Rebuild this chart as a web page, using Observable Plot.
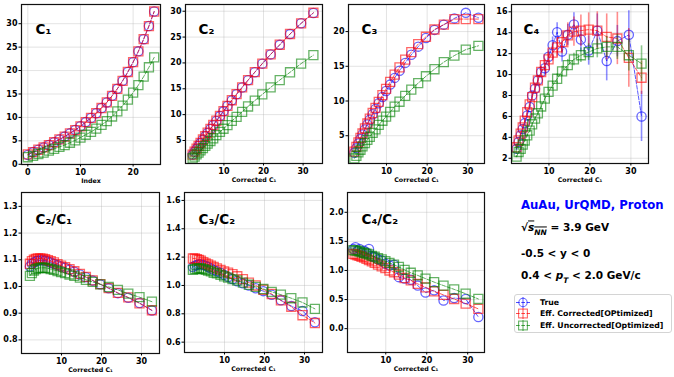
<!DOCTYPE html>
<html><head><meta charset="utf-8">
<script src="https://cdn.jsdelivr.net/npm/d3@7"></script>
<script src="https://cdn.jsdelivr.net/npm/@observablehq/plot@0.6"></script>
<style>
body{margin:0;background:#fff;}
#fig{position:relative;width:674px;height:377px;font-family:"DejaVu Sans",sans-serif;overflow:hidden;background:#fff;}
.panel{position:absolute;}
.note{position:absolute;left:521px;font-weight:bold;font-size:10.5px;color:#000;white-space:nowrap;transform:translateY(-50%);line-height:1.2;}
#legend{position:absolute;left:514px;top:294px;width:156px;height:37px;border:1px solid #d4d4d4;border-radius:3px;background:#fff;}
.lrow{position:absolute;left:0;height:11px;font-weight:bold;font-size:7.8px;white-space:nowrap;}
.lrow svg{position:absolute;left:0;top:0;}
.lrow span{position:absolute;left:25px;top:0;line-height:11px;}
</style></head><body><div id="fig"></div>
<script>
// ---------------- data ----------------
const index = [0,1,2,3,4,5,6,7,8,9,10,11,12,13,14,15,16,17,18,19,20,21,22,23,24];
// Corrected C1 (x axis of all other panels)
const c1Corrected   = [2.1,2.6,3.1,3.6,4.1,4.7,5.3,5.9,6.6,7.3,8.1,9.0,9.9,10.9,12.0,13.2,14.6,16.1,17.8,19.7,21.8,24.1,26.7,29.5,32.6];
const c1True        = [2.0,2.6,3.1,3.6,4.1,4.7,5.3,5.9,6.6,7.3,8.1,9.0,9.9,10.9,12.0,13.2,14.6,16.1,17.8,19.7,21.8,24.1,26.7,29.5,32.6];
const c1Uncorrected = [1.5,1.8,2.2,2.5,2.9,3.3,3.7,4.1,4.6,5.1,5.7,6.3,6.9,7.6,8.4,9.2,10.2,11.3,12.5,13.8,15.3,16.9,18.7,20.7,22.8];

const c2True        = [2.26,2.82,3.38,3.94,4.50,5.16,5.82,6.47,7.22,7.96,8.79,9.72,10.64,11.66,12.76,13.93,15.26,16.66,18.19,19.86,21.65,23.50,25.58,27.67,29.67];
const c2Corrected   = [2.28,2.85,3.41,3.97,4.53,5.19,5.85,6.50,7.25,7.99,8.82,9.75,10.67,11.69,12.79,13.96,15.28,16.68,18.21,19.88,21.66,23.52,25.60,27.64,29.70];
const c2Uncorrected = [1.56,1.89,2.33,2.66,3.10,3.53,3.96,4.39,4.91,5.43,6.05,6.66,7.27,7.98,8.78,9.57,10.54,11.58,12.71,13.91,15.27,16.68,18.19,19.87,21.50];

const c3True        = [2.55,3.21,3.87,4.53,5.18,5.91,6.63,7.31,8.09,8.84,9.67,10.59,11.44,12.36,13.33,14.35,15.49,16.66,17.83,19.07,20.24,21.0,21.9,22.7,22.0];
const c3Corrected   = [2.71,3.39,4.04,4.68,5.32,6.05,6.76,7.46,8.27,9.02,9.88,10.85,11.75,12.75,13.80,14.85,15.95,17.05,18.2,19.25,20.3,21.0,21.8,21.8,21.8];
const c3Uncorrected = [1.73,2.11,2.61,2.98,3.47,3.94,4.40,4.85,5.40,5.92,6.56,7.16,7.74,8.42,9.18,9.90,10.75,11.64,12.58,13.56,14.58,15.60,16.55,17.40,17.95];

const c4True        = [2.9,3.55,4.2,4.8,5.35,6.1,6.9,8.0,8.65,9.45,10.25,10.6,11.7,12.8,14.05,12.2,13.8,14.8,13.35,12.3,14.2,11.3,13.2,13.8,6.0];
const c4Corrected   = [3.05,3.7,4.35,4.95,5.6,6.4,7.15,7.85,8.75,9.45,10.25,10.9,11.45,12.1,12.6,13.1,13.75,14.1,14.2,14.3,14.2,13.6,13.45,11.6,9.7];
const c4Uncorrected = [2.15,2.6,2.9,3.3,3.7,4.2,4.65,5.25,5.8,6.3,6.95,7.7,8.35,8.95,9.6,10.3,10.9,11.45,11.85,12.15,12.5,12.65,12.65,11.85,11.05];
const c4TrueErr        = [0.15,0.15,0.2,0.2,0.25,0.3,0.3,0.35,0.4,0.45,0.5,0.6,0.7,0.8,0.9,1.0,1.0,1.1,1.2,1.4,1.6,1.9,1.5,2.3,2.4];
const c4CorrectedErr   = [0.15,0.15,0.2,0.2,0.25,0.3,0.3,0.35,0.4,0.45,0.5,0.6,0.7,0.8,0.9,1.1,1.2,1.4,1.5,1.6,1.8,2.2,2.5,2.8,1.6];
const c4UncorrectedErr = [0.1,0.1,0.1,0.15,0.15,0.15,0.2,0.2,0.2,0.25,0.3,0.3,0.35,0.4,0.45,0.5,0.55,0.6,0.7,0.8,0.9,1.0,1.2,1.5,1.7];

const r21True        = [1.075,1.085,1.09,1.095,1.097,1.098,1.098,1.097,1.094,1.09,1.085,1.08,1.075,1.07,1.063,1.055,1.045,1.035,1.022,1.008,0.993,0.975,0.958,0.938,0.91];
const r21Corrected   = [1.085,1.095,1.1,1.103,1.105,1.105,1.104,1.102,1.099,1.095,1.09,1.084,1.078,1.072,1.065,1.057,1.047,1.036,1.023,1.009,0.994,0.976,0.959,0.937,0.911];
const r21Uncorrected = [1.04,1.05,1.06,1.065,1.068,1.07,1.07,1.07,1.068,1.065,1.062,1.058,1.054,1.05,1.045,1.04,1.033,1.025,1.017,1.008,0.998,0.987,0.973,0.96,0.943];

const r32True        = [1.13,1.14,1.145,1.15,1.15,1.145,1.14,1.13,1.12,1.11,1.10,1.09,1.075,1.06,1.045,1.03,1.015,1.0,0.98,0.96,0.935,0.895,0.855,0.82,0.74];
const r32Corrected   = [1.19,1.19,1.185,1.18,1.175,1.165,1.155,1.148,1.14,1.13,1.12,1.11,1.10,1.09,1.08,1.065,1.045,1.02,1.0,0.97,0.94,0.895,0.85,0.79,0.735];
const r32Uncorrected = [1.11,1.115,1.12,1.12,1.12,1.115,1.11,1.105,1.10,1.09,1.085,1.075,1.065,1.055,1.045,1.035,1.02,1.005,0.99,0.975,0.955,0.935,0.91,0.88,0.835];

const r42True        = [1.37,1.40,1.34,1.37,1.31,1.34,1.31,1.37,1.245,1.23,1.19,1.17,1.115,1.085,1.10,0.885,0.86,0.84,0.74,0.62,0.66,0.485,0.525,0.51,0.20];
const r42Corrected   = [1.285,1.275,1.26,1.25,1.235,1.22,1.20,1.18,1.155,1.13,1.10,1.07,1.04,1.0,0.97,0.93,0.87,0.83,0.77,0.71,0.64,0.58,0.51,0.43,0.34];
const r42Uncorrected = [1.35,1.34,1.34,1.325,1.31,1.30,1.29,1.275,1.25,1.235,1.21,1.19,1.16,1.13,1.10,1.06,1.01,0.96,0.915,0.86,0.80,0.74,0.675,0.60,0.51];

const seriesNames = ["True", "Eff. Corrected[OPtimized]", "Eff. Uncorrected[Optimized]"];
const seriesColors = ["#0000ff", "#ff0000", "#008000"];
const seriesSymbols = ["circle", "square", "square"];

const xTicksIndex = [0,10,20];
const xTicksC1 = [10,20,30];

// ---------------- drawing ----------------
const fig = document.getElementById("fig");
const FONT = "DejaVu Sans";

function rows(xs, ys, errs) {
  return xs.map((x, i) => ({x, y: ys[i], e: errs ? errs[i] : 0}));
}

function panel(cfg) {
  const mL = 28, mR = 6, mT = 4, mB = 24;
  const w = cfg.fr - cfg.fl, h = cfg.fb - cfg.ft;
  const marks = [
    Plot.gridX(cfg.xTicks, {stroke: "#b0b0b0", strokeOpacity: 0.45, strokeWidth: 0.8}),
    Plot.gridY(cfg.yTicks, {stroke: "#b0b0b0", strokeOpacity: 0.45, strokeWidth: 0.8})
  ];
  cfg.series.forEach((s, k) => {
    const data = rows(s.x, s.y, s.err);
    const color = seriesColors[k];
    if (s.err) {
      marks.push(Plot.ruleX(data, {x: "x", y1: d => d.y - d.e, y2: d => d.y + d.e, stroke: color, strokeOpacity: 0.45, strokeWidth: 1.6}));
    }
    marks.push(Plot.line(data, {x: "x", y: "y", stroke: color, strokeOpacity: 0.65, strokeWidth: 1, strokeDasharray: "3.7,1.6"}));
    marks.push(Plot.dot(data, {x: "x", y: "y", symbol: seriesSymbols[k], r: seriesSymbols[k] === "circle" ? 4.6 : 5.1, stroke: color, fill: "none", strokeOpacity: 0.6, strokeWidth: 1.3}));
  });
  marks.push(Plot.frame({stroke: "#111", strokeWidth: 1.2}));
  marks.push(Plot.axisX(cfg.xTicks, {tickSize: 2.5, tickPadding: 2, fontSize: 8, fontWeight: "bold", label: null, tickFormat: d => String(d)}));
  marks.push(Plot.axisY(cfg.yTicks, {tickSize: 2.5, tickPadding: 1.5, fontSize: 8, fontWeight: "bold", label: null, tickFormat: cfg.yFormat}));
  marks.push(Plot.text([cfg.title], {text: d => d, frameAnchor: "top-left", dx: cfg.tdx, dy: cfg.tdy, textAnchor: "start", fontSize: 13.5, fontWeight: "bold", fill: "#000"}));
  if (cfg.xLabel) marks.push(Plot.text([cfg.xLabel], {text: d => d, frameAnchor: "bottom", dy: 18.5, fontSize: 6.3, fontWeight: "bold", fill: "#000"}));
  const chart = Plot.plot({
    width: w + mL + mR,
    height: h + mT + mB,
    marginLeft: mL, marginRight: mR, marginTop: mT, marginBottom: mB,
    style: {fontFamily: FONT, background: "transparent", overflow: "visible", color: "#000"},
    x: {domain: cfg.xDomain},
    y: {domain: cfg.yDomain},
    marks
  });
  chart.classList.add("panel");
  chart.style.left = (cfg.fl - mL) + "px";
  chart.style.top = (cfg.ft - mT) + "px";
  fig.appendChild(chart);
}

const f1 = d3.format(".1f");

panel({fl: 21, fr: 160, ft: 4, fb: 164, xDomain: [-1.2, 25.2], yDomain: [-0.05, 34.1],
  xTicks: xTicksIndex, yTicks: [0,5,10,15,20,25,30], yFormat: d => String(d),
  title: "C₁", tdx: 14, tdy: 20, xLabel: "Index",
  series: [{x: index, y: c1True}, {x: index, y: c1Corrected}, {x: index, y: c1Uncorrected}]});

panel({fl: 185, fr: 322, ft: 4, fb: 163, xDomain: [0.3, 34.9], yDomain: [0.55, 31.3],
  xTicks: xTicksC1, yTicks: [5,10,15,20,25,30], yFormat: d => String(d),
  title: "C₂", tdx: 13, tdy: 20, xLabel: "Corrected C₁",
  series: [{x: c1Corrected, y: c2True}, {x: c1Corrected, y: c2Corrected}, {x: c1Corrected, y: c2Uncorrected}]});

panel({fl: 348, fr: 484, ft: 4, fb: 163, xDomain: [0.66, 34.1], yDomain: [1.0, 23.9],
  xTicks: xTicksC1, yTicks: [5,10,15,20], yFormat: d => String(d),
  title: "C₃", tdx: 13, tdy: 20, xLabel: "Corrected C₁",
  series: [{x: c1Corrected, y: c3True}, {x: c1Corrected, y: c3Corrected}, {x: c1Corrected, y: c3Uncorrected}]});

panel({fl: 511, fr: 648, ft: 4, fb: 163, xDomain: [0.86, 34.3], yDomain: [1.5, 16.7],
  xTicks: xTicksC1, yTicks: [2,4,6,8,10,12,14,16], yFormat: d => String(d),
  title: "C₄", tdx: 12, tdy: 20, xLabel: "Corrected C₁",
  series: [{x: c1Corrected, y: c4True, err: c4TrueErr}, {x: c1Corrected, y: c4Corrected, err: c4CorrectedErr}, {x: c1Corrected, y: c4Uncorrected, err: c4UncorrectedErr}]});

panel({fl: 21, fr: 159, ft: 192, fb: 353, xDomain: [0, 34.5], yDomain: [0.749, 1.352],
  xTicks: xTicksC1, yTicks: [0.8,0.9,1.0,1.1,1.2,1.3], yFormat: f1,
  title: "C₂/C₁", tdx: 14, tdy: 22, xLabel: "Corrected C₁",
  series: [{x: c1Corrected, y: r21True}, {x: c1Corrected, y: r21Corrected}, {x: c1Corrected, y: r21Uncorrected}]});

panel({fl: 184, fr: 322, ft: 192, fb: 352, xDomain: [0, 34.5], yDomain: [0.527, 1.656],
  xTicks: xTicksC1, yTicks: [0.6,0.8,1.0,1.2,1.4,1.6], yFormat: f1,
  title: "C₃/C₂", tdx: 14, tdy: 22, xLabel: "Corrected C₁",
  series: [{x: c1Corrected, y: r32True}, {x: c1Corrected, y: r32Corrected}, {x: c1Corrected, y: r32Uncorrected}]});

panel({fl: 347, fr: 484, ft: 192, fb: 352, xDomain: [0.66, 34.1], yDomain: [-0.41, 2.34],
  xTicks: xTicksC1, yTicks: [0,0.5,1.0,1.5,2.0], yFormat: f1,
  title: "C₄/C₂", tdx: 14, tdy: 22, xLabel: "Corrected C₁",
  series: [{x: c1Corrected, y: r42True}, {x: c1Corrected, y: r42Corrected}, {x: c1Corrected, y: r42Uncorrected}]});

// ---------------- annotations ----------------
function note(html, top, extra) {
  const d = document.createElement("div");
  d.className = "note";
  d.style.top = top + "px";
  if (extra) Object.assign(d.style, extra);
  d.innerHTML = html;
  fig.appendChild(d);
}
note("AuAu, UrQMD, Proton", 205, {color: "#0000ff", fontSize: "11.7px"});
note('√<span style="text-decoration:overline"><i>s</i><sub style="font-size:7.5px"><i>NN</i></sub></span> = 3.9 GeV', 229);
note("-0.5 &lt; y &lt; 0", 253);
note('0.4 &lt; <i>p</i><sub style="font-size:7.5px"><i>T</i></sub> &lt; 2.0 GeV/c', 277);

// legend
const legend = document.createElement("div");
legend.id = "legend";
fig.appendChild(legend);
seriesNames.forEach((name, k) => {
  const row = document.createElement("div");
  row.className = "lrow";
  row.style.top = (1.5 + k * 11.5) + "px";
  row.style.width = "156px";
  const c = seriesColors[k];
  const marker = seriesSymbols[k] === "circle"
    ? `<circle cx="8" cy="5.5" r="4.2" fill="none" stroke="${c}" stroke-opacity="0.6" stroke-width="1.1"/>`
    : `<rect x="3.6" y="1.1" width="8.8" height="8.8" fill="none" stroke="${c}" stroke-opacity="0.6" stroke-width="1.1"/>`;
  row.innerHTML = `<svg width="18" height="11">
    <line x1="1" x2="15" y1="5.5" y2="5.5" stroke="${c}" stroke-opacity="0.7" stroke-dasharray="3.7,1.6"/>
    <line x1="8" x2="8" y1="0" y2="11" stroke="${c}" stroke-opacity="0.5" stroke-width="1.3"/>
    ${marker}</svg><span>${name}</span>`;
  legend.appendChild(row);
});
</script></body></html>
